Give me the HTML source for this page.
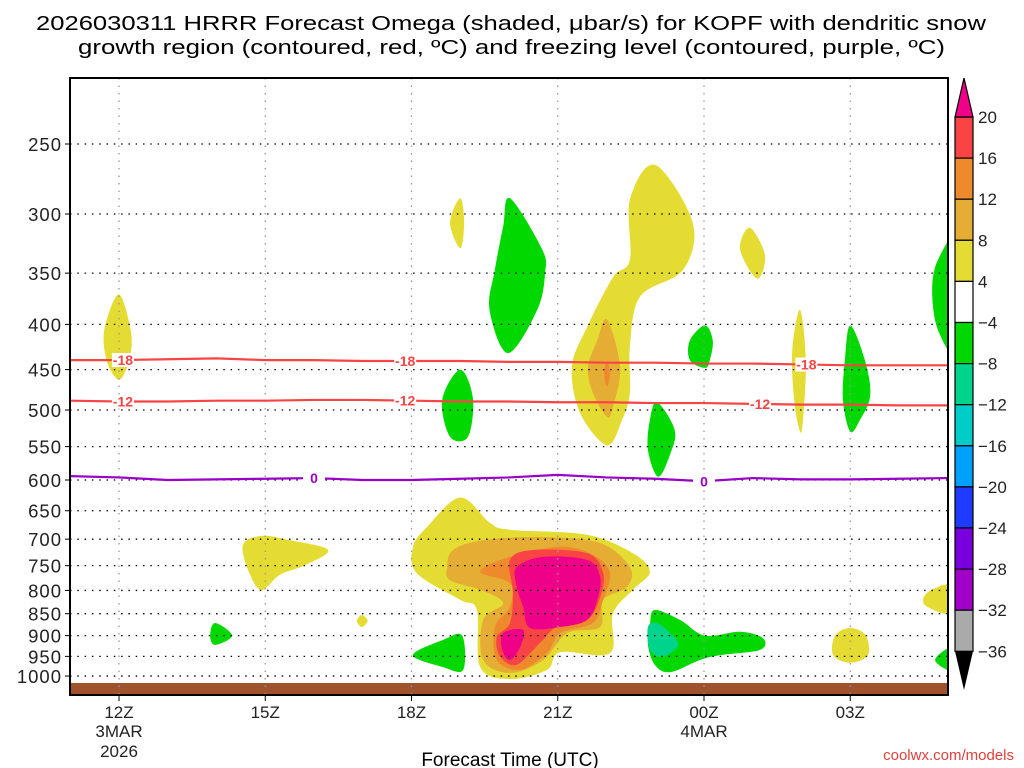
<!DOCTYPE html>
<html><head><meta charset="utf-8">
<style>
html,body{margin:0;padding:0;background:#fff;}
svg{display:block;font-family:"Liberation Sans",sans-serif;}
</style></head>
<body>
<svg id="chart" width="1024" height="768" viewBox="0 0 1024 768">
<text x="36" y="30" font-size="20" textLength="950" lengthAdjust="spacingAndGlyphs" fill="#000">2026030311 HRRR Forecast Omega (shaded, μbar/s) for KOPF with dendritic snow</text>
<text x="78" y="54" font-size="20" textLength="867" lengthAdjust="spacingAndGlyphs" fill="#000">growth region (contoured, red, ºC) and freezing level (contoured, purple, ºC)</text>
<g id="fills"></g>
<g id="grid"></g>
<g id="lines"></g>
<g id="axes"></g>
<g id="cbar"></g>
<text x="510" y="766" font-size="19" text-anchor="middle">Forecast Time (UTC)</text>
<text x="1014" y="760" font-size="15" text-anchor="end" fill="#e0403c">coolwx.com/models</text>
</svg>
<script>
// ---- data ----
const levels = [250,300,350,400,450,500,550,600,650,700,750,800,850,900,950,1000];
const hourTicks = [0,3,6,9,12,15];
const hourLabels = ["12Z","15Z","18Z","21Z","00Z","03Z"];
const lineHours = [-1,0,1,2,3,4,5,6,7,8,9,10,11,12,13,14,15,16,17];
const isoMinus18 = [439,439,438,437,439,439,440,440,440,441,441,442,442,443,443,444,445,445,445];
const isoMinus12 = [488,489,489,488,488,487,487,488,489,489,490,490,491,491,492,493,493,494,494];
const isoZero = [594,596,600,599,598,597,600,600,598,596,592,596,598,602,597,599,599,598,597];
const cbarValues = ["20","16","12","8","4","−4","−8","−12","−16","−20","−24","−28","−32","−36"];
const cbarColors = ["#f84444","#ee8a2c","#e5ad33","#e5dc33","#ffffff","#00d800","#00d48c","#00ccc8","#00a0ff","#1e3cff","#7800dc","#a000c8","#aaaaaa"];
// shaded regions: [hour, pressure] outlines
const yellowShapes = [
 [[0,370],[0.25,410],[0.2,440],[0,462],[-0.25,440],[-0.3,405]],
 [[2.54,711],[2.93,694],[3.51,702],[4.29,720],[3.82,749],[3.30,768],[2.93,799],[2.69,768]],
 [[7.0,288],[7.08,307],[7.0,328],[6.79,307]],
 [[11.0,264],[11.77,307],[11.57,347],[10.69,372],[10.48,424],[10.48,478],[10.32,513],[10.01,548],[9.46,504],[9.29,447],[9.6,403],[10.13,354],[10.48,338],[10.48,289]],
 [[12.94,311],[13.25,334],[13.09,355],[12.74,329]],
 [[13.97,385],[14.09,439],[14.03,513],[13.97,529],[13.85,487],[13.81,428]],
 [[15.0,882],[15.32,900],[15.36,947],[15.0,966],[14.65,947],[14.69,900]],
 [[17.1,789],[17.1,850],[16.53,831],[16.6,803]],
 [[4.98,853],[5.1,866],[4.98,880],[4.88,866]],
 [[7.0,628],[7.61,671],[8.02,683],[9.6,692],[10.54,726],[10.89,762],[10.54,799],[10.13,850],[10.07,942],[9.05,940],[8.78,984],[8.02,1008],[7.41,977],[7.34,842],[7.0,820],[6.11,765],[6.03,714],[6.32,678]]
];
const gold812Shapes = [
 [[10.01,395],[10.28,447],[10.13,496],[10.01,509],[9.72,478],[9.62,447],[9.81,417]],
 [[6.73,753],[6.85,720],[7.47,702],[8.70,696],[9.87,707],[10.48,753],[10.42,793],[9.93,820],[9.87,880],[9.19,894],[8.70,959],[8.02,992],[7.47,959],[7.47,864],[7.88,827],[7.41,799],[6.79,779]]
];
const orangeShapes = [
 [[10.01,440],[10.07,455],[10.01,470],[9.95,455]],
 [[7.41,762],[8.02,733],[9.05,714],[9.72,729],[10.07,764],[9.93,820],[9.72,871],[9.05,894],[8.78,942],[8.23,984],[7.75,959],[7.71,880],[8.02,835],[8.02,785]]
];
const redShapes = [
 [[8.02,739],[8.49,720],[9.6,726],[9.93,764],[9.87,814],[9.6,864],[8.98,880],[8.64,917],[8.16,971],[7.82,951],[7.75,903],[8.02,871],[8.08,805]]
];
const magentaShapes = [
 [[8.16,753],[8.70,733],[9.6,739],[9.87,772],[9.81,820],[9.6,864],[9.05,880],[8.43,882],[8.29,835],[8.16,793]],
 [[7.88,894],[8.29,887],[8.23,927],[8.02,959],[7.86,934]]
];
const greenShapes = [
 [[6.03,947],[6.65,910],[7.04,900],[7.06,984],[6.65,977]],
 [[10.89,875],[10.99,842],[11.51,864],[12.02,900],[12.74,891],[13.21,906],[13.15,934],[12.33,947],[11.92,959],[11.3,990],[10.99,971],[10.85,922]],
 [[8.02,288],[8.68,329],[8.74,350],[8.58,385],[7.98,431],[7.6,385],[7.71,347],[7.88,310]],
 [[7.0,450],[7.26,485],[7.16,536],[6.79,536],[6.63,487]],
 [[11.04,490],[11.4,527],[11.3,562],[11.06,595],[10.85,555],[10.89,513]],
 [[12.02,401],[12.18,417],[12.12,439],[12.02,448],[11.71,439],[11.71,417]],
 [[15.0,401],[15.3,439],[15.41,481],[15.2,513],[15.0,529],[14.85,487],[14.89,439]],
 [[17.2,321],[17.2,430],[16.8,406],[16.68,366],[16.8,338]],
 [[17.2,922],[17.2,990],[16.74,959]],
 [[1.97,871],[2.32,900],[1.97,922],[1.87,900]]
];
const tealShapes = [
 [[10.85,880],[11.04,871],[11.3,894],[11.47,922],[11.16,951],[10.89,934]]
];
const labels18 = [0.08,5.87,14.1];
const labels12 = [0.08,5.87,13.15];
const labels0 = [4.0,12.0];

// ---- scales ----
const X0=70,X1=948,Y0=78,Y1=695;
function x(h){return 119+h*48.75;}
function y(p){return 144+Math.log(p/250)*383.8;}
const NS="http://www.w3.org/2000/svg";
function mk(tag,attrs,parent){const e=document.createElementNS(NS,tag);for(const k in attrs)e.setAttribute(k,attrs[k]);parent.appendChild(e);return e;}
function smooth(pts){
  const P=pts.map(q=>[x(q[0]),y(q[1])]);const n=P.length;let d=`M${P[0][0]},${P[0][1]}`;
  for(let i=0;i<n;i++){const p0=P[(i-1+n)%n],p1=P[i],p2=P[(i+1)%n],p3=P[(i+2)%n];
    d+=` C${p1[0]+(p2[0]-p0[0])/6},${p1[1]+(p2[1]-p0[1])/6} ${p2[0]-(p3[0]-p1[0])/6},${p2[1]-(p3[1]-p1[1])/6} ${p2[0]},${p2[1]}`;}
  return d+"Z";
}
const svg=document.getElementById('chart');
const defs=mk('defs',{},svg);
const cp=mk('clipPath',{id:'plotclip'},defs);
mk('rect',{x:X0,y:Y0,width:X1-X0,height:Y1-Y0},cp);
const fills=document.getElementById('fills');
fills.setAttribute('clip-path','url(#plotclip)');
function drawSet(set,color,name){
  set.forEach((s,i)=>{const e=mk('path',{d:smooth(s),fill:color},fills);
    
    });
}
drawSet(yellowShapes,'#e5dc33','omega-4-8-region');
drawSet(gold812Shapes,'#e5ad33','omega-8-12-region');
drawSet(orangeShapes,'#ee8a2c','omega-12-16-region');
drawSet(redShapes,'#f84444','omega-16-20-region');
drawSet(magentaShapes,'#ee0088','omega-over-20-region');
drawSet(greenShapes,'#00d800','omega-neg4-neg8-region');
drawSet(tealShapes,'#00d48c','omega-neg8-neg12-region');
const g=mk('rect',{x:X0,y:683,width:X1-X0,height:12,fill:'#a0522d'},fills);



// grid
const grid=document.getElementById('grid');
levels.forEach(p=>{const e=mk('line',{x1:X0,x2:X1,y1:y(p),y2:y(p),stroke:'#000','stroke-width':1.3,'stroke-dasharray':'1.5 5.8'},grid);
  
  });
hourTicks.forEach(h=>{const e=mk('line',{x1:x(h),x2:x(h),y1:Y0,y2:Y1,stroke:'#999','stroke-width':1.3,'stroke-dasharray':'1.5 6'},grid);
  
  });

// contour lines
const lines=document.getElementById('lines');
lines.setAttribute('clip-path','url(#plotclip)');
function drawLine(vals,color,name){
  let d='';lineHours.forEach((h,i)=>{d+=(i?'L':'M')+x(h)+','+y(vals[i]);});
  const e=mk('path',{d:d,fill:'none',stroke:color,'stroke-width':2.2},lines);
  
  
}
function interp(vals,h){const i=Math.max(0,Math.min(lineHours.length-2,Math.floor(h+1)));const t=h-lineHours[i];return vals[i]+(vals[i+1]-vals[i])*t;}
function drawLabels(hs,vals,text,color,name){
  hs.forEach(h=>{const yy=y(interp(vals,h));
    const r=mk('rect',{x:x(h)-11,y:yy-7,width:22,height:14,fill:'#fff'},lines);
    
    
    const t=mk('text',{x:x(h),y:yy+5,'font-size':14,'font-weight':'bold','text-anchor':'middle',fill:color},lines);
    t.textContent=text;
    
    });
}
drawLine(isoMinus18,'#f84444','isotherm-minus18');
drawLine(isoMinus12,'#f84444','isotherm-minus12');
drawLine(isoZero,'#9a00c8','freezing-level-line');
drawLabels(labels18,isoMinus18,'-18','#f84444','isotherm-minus18-label');
drawLabels(labels12,isoMinus12,'-12','#f84444','isotherm-minus12-label');
drawLabels(labels0,isoZero,'0','#9a00c8','freezing-level-label');

// axes
const axes=document.getElementById('axes');
const fr=mk('rect',{x:X0,y:Y0,width:X1-X0,height:Y1-Y0,fill:'none',stroke:'#000','stroke-width':2},axes);


levels.forEach(p=>{
  mk('line',{x1:X0-5,x2:X0,y1:y(p),y2:y(p),stroke:'#000','stroke-width':1},axes);
  const t=mk('text',{x:X0-8,y:y(p)+7,'font-size':18.5,'text-anchor':'end',fill:'#222','letter-spacing':'1'},axes);
  t.textContent=String(p);
  
  
});
hourTicks.forEach((h,i)=>{
  mk('line',{x1:x(h),x2:x(h),y1:Y1,y2:Y1+6,stroke:'#000','stroke-width':1},axes);
  const t=mk('text',{x:x(h),y:718,'font-size':17,'text-anchor':'middle',fill:'#222'},axes);
  t.textContent=hourLabels[i];
  
  
});
[[0,"3MAR",737],[0,"2026",757],[12,"4MAR",737]].forEach(a=>{
  const t=mk('text',{x:x(a[0]),y:a[2],'font-size':17,'text-anchor':'middle',fill:'#222'},axes);
  t.textContent=a[1];
  
  
});

// colorbar
const cb=document.getElementById('cbar');
const CX=955,CW=18,CT=117,CH=41.1;
cbarColors.forEach((c,i)=>{const r=mk('rect',{x:CX,y:CT+i*CH,width:CW,height:CH,fill:c,stroke:'#000','stroke-width':1.2},cb);
  
  });
const tt=mk('polygon',{points:`${CX},${CT} ${CX+CW},${CT} ${CX+CW/2},78`,fill:'#ee0088',stroke:'#000','stroke-width':1.2},cb);


const by=CT+cbarColors.length*CH;
const tb=mk('polygon',{points:`${CX},${by} ${CX+CW},${by} ${CX+CW/2},690`,fill:'#000'},cb);


cbarValues.forEach((v,i)=>{const t=mk('text',{x:978,y:CT+i*CH+6,'font-size':17,fill:'#222'},cb);
  t.textContent=v;
  
  });
</script>
</body></html>
